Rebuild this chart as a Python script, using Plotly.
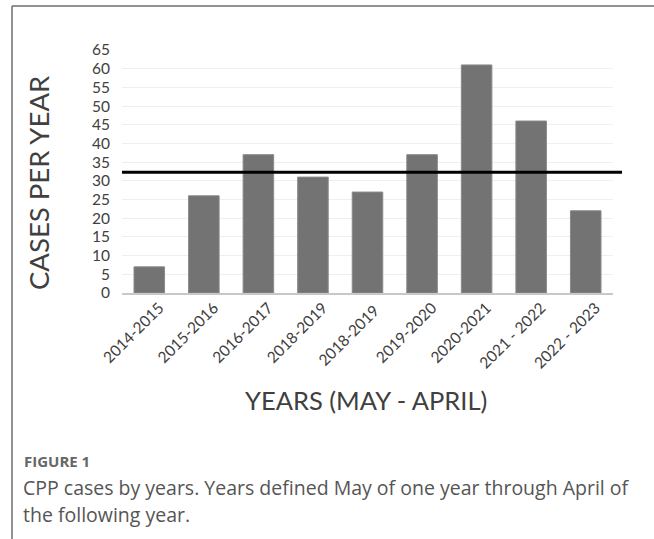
import plotly.graph_objects as go

categories = ["2014-2015", "2015-2016", "2016-2017", "2018-2019", "2018-2019 ",
              "2019-2020", "2020-2021", "2021 - 2022", "2022 - 2023"]
cases = [7, 26, 37, 31, 27, 37, 61, 46, 22]
average_cases = 32.3
y_ticks = list(range(0, 70, 5))

W, H = 654, 539
L, R, T, B = 122, 41, 50, 246
pw, ph = W - L - R, H - T - B

def px(x):
    return (x - L) / pw

def py(y):
    return (H - B - y) / ph

fig = go.Figure()
fig.add_trace(go.Bar(
    x=categories, y=cases,
    marker=dict(color="#737373", line=dict(color="#8a8a8a", width=1)),
    hoverinfo="skip",
))

fig.update_layout(
    width=W, height=H,
    margin=dict(l=L, r=R, t=T, b=B),
    paper_bgcolor="white", plot_bgcolor="white",
    bargap=0.44,
    showlegend=False,
    font=dict(family="Lato", color="#404040"),
)
fig.update_xaxes(
    type="category", tickangle=-45,
    tickfont=dict(family="Lato", size=15.5, color="#404040"),
    showline=True, linecolor="#c8c8c8", linewidth=1.5,
    showgrid=False, ticks="", ticklen=0,
    ticklabelshift=10, ticklabelstandoff=-2,
)
fig.update_yaxes(
    range=[0, 65], tickvals=y_ticks,
    tickfont=dict(family="Lato", size=15.5, color="#404040"),
    showgrid=True, gridcolor="#efefef", gridwidth=1,
    zeroline=False, showline=False, ticks="", ticklabelstandoff=11,
)

shapes = [
    dict(type="line", xref="paper", yref="y", x0=0, x1=px(622),
         y0=average_cases, y1=average_cases, line=dict(color="black", width=3)),
    dict(type="line", xref="paper", yref="paper", x0=px(12), x1=px(12),
         y0=py(6), y1=py(545), line=dict(color="#6e6e6e", width=1.5)),
    dict(type="line", xref="paper", yref="paper", x0=px(12), x1=px(660),
         y0=py(6), y1=py(6), line=dict(color="#6e6e6e", width=1.5)),
]
fig.update_layout(shapes=shapes)

annotations = [
    dict(text="CASES PER YEAR", textangle=-90, xref="paper", yref="paper",
         x=px(38), y=py(183), showarrow=False, xanchor="center", yanchor="middle",
         font=dict(family="Lato", size=27.5, color="#404040")),
    dict(text="YEARS (MAY - APRIL)", xref="paper", yref="paper",
         x=px(366), y=py(400), showarrow=False, xanchor="center", yanchor="middle",
         font=dict(family="Lato", size=25.5, color="#404040")),
    dict(text="<b>FIGURE 1</b>", xref="paper", yref="paper",
         x=px(22), y=py(461), showarrow=False, xanchor="left", yanchor="middle",
         font=dict(family="Open Sans", size=15, color="#666666")),
    dict(text="CPP cases by years. Years defined May of one year through April of",
         xref="paper", yref="paper",
         x=px(21), y=py(487), showarrow=False, xanchor="left", yanchor="middle",
         font=dict(family="Open Sans", size=19.5, color="#555555")),
    dict(text="the following year.",
         xref="paper", yref="paper",
         x=px(21), y=py(514), showarrow=False, xanchor="left", yanchor="middle",
         font=dict(family="Open Sans", size=19.5, color="#555555")),
]
fig.update_layout(annotations=annotations)

fig.write_html(
    "out.html",
    config={"displayModeBar": False},
    post_script="document.body.style.margin='0';document.body.style.overflow='hidden';",
)
